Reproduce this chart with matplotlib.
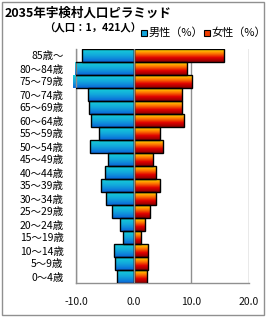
import numpy as np
import matplotlib
matplotlib.use("Agg")
import matplotlib.pyplot as plt
from matplotlib.colors import LinearSegmentedColormap
from matplotlib.patches import Rectangle

plt.rcParams['font.family'] = ['Noto Sans CJK JP', 'DejaVu Sans']

# data (bottom to top)
ages = ['0～4歳', '5～9歳', '10～14歳', '15～19歳', '20～24歳', '25～29歳',
        '30～34歳', '35～39歳', '40～44歳', '45～49歳', '50～54歳', '55～59歳',
        '60～64歳', '65～69歳', '70～74歳', '75～79歳', '80～84歳', '85歳～']
male = [2.85, 3.2, 3.35, 1.8, 2.3, 3.7, 4.75, 5.6, 4.9, 4.4, 7.5, 6.0,
        7.35, 7.7, 8.0, 10.5, 10.2, 8.9]
female = [2.25, 2.5, 2.5, 1.2, 2.0, 2.9, 3.8, 4.6, 3.8, 3.4, 5.0, 4.6,
          8.8, 8.45, 8.45, 10.2, 9.3, 15.7]
xticks = [-10, 0, 10, 20]

male_cmap = LinearSegmentedColormap.from_list('m', ['#0a66d8', '#12a6dc', '#16d0d8'])
female_cmap = LinearSegmentedColormap.from_list('f', ['#8a0000', '#e00000', '#ff7a00', '#ffe000'])

fig = plt.figure(figsize=(2.7, 3.2), dpi=100)
ax = fig.add_axes([76.1 / 270, 37 / 320, 172.8 / 270, 234 / 320])

y = np.arange(len(ages))
grad = np.linspace(0, 1, 64).reshape(-1, 1)


def gradient_bars(bars, cmap):
    for b in bars:
        x0, y0 = b.get_x(), b.get_y()
        w, h = b.get_width(), b.get_height()
        im = ax.imshow(grad, cmap=cmap, aspect='auto', origin='lower',
                       extent=[min(x0, x0 + w), max(x0, x0 + w), y0, y0 + h],
                       zorder=2)
        im.set_clip_path(b)


mb = ax.barh(y, [-v for v in male], height=1.0, facecolor='none',
             edgecolor='black', linewidth=1.0, zorder=3)
fb = ax.barh(y, female, height=1.0, facecolor='none',
             edgecolor='black', linewidth=1.0, zorder=3)
gradient_bars(mb, male_cmap)
gradient_bars(fb, female_cmap)
ax.axvline(0, color='#909090', linewidth=1.0, zorder=4)

ax.set_xlim(-10, 20)
ax.set_ylim(-0.5, len(ages) - 0.5)
ax.set_xticks(xticks)
ax.set_xticklabels(['-10.0', '0.0', '10.0', '20.0'], fontsize=7.5,
                   color='#101010')
ax.set_yticks(y)
ax.set_yticklabels(ages, fontsize=7.5)
ax.tick_params(axis='both', length=0)
ax.tick_params(axis='y', pad=9)
ax.tick_params(axis='x', pad=10)
ax.grid(axis='x', color='#909090', linewidth=1.0, zorder=0)
ax.set_axisbelow(True)
for s in ['top', 'right']:
    ax.spines[s].set_visible(False)
for s in ['left', 'bottom']:
    ax.spines[s].set_color('#909090')
    ax.spines[s].set_linewidth(1.0)

# title and subtitle
fig.text(5 / 270, 1 - 13 / 320, '2035年宇検村人口ピラミッド', fontsize=9,
         fontweight='bold', va='center', ha='left')
fig.text(44 / 270, 1 - 28 / 320, '（人口：1，421人）', fontsize=7.5,
         fontweight='bold', va='center', ha='left')

# legend
for sx, tx, label, cmap in [(141, 149, '男性（%）', male_cmap),
                            (204, 211, '女性（%）', female_cmap)]:
    fig.patches.append(Rectangle((sx / 270, 1 - 36 / 320), 6 / 270, 6 / 320,
                                 transform=fig.transFigure, facecolor=cmap(0.5),
                                 edgecolor='black', linewidth=0.8))
    fig.text(tx / 270, 1 - 33 / 320, label, fontsize=8, va='center',
             ha='left')

# outer frame
fig.patches.append(Rectangle((2 / 270, 5 / 320), 262 / 270, 313 / 320,
                             transform=fig.transFigure, facecolor='none',
                             edgecolor='#909090', linewidth=1.0))

fig.savefig('out.png', dpi=100)
